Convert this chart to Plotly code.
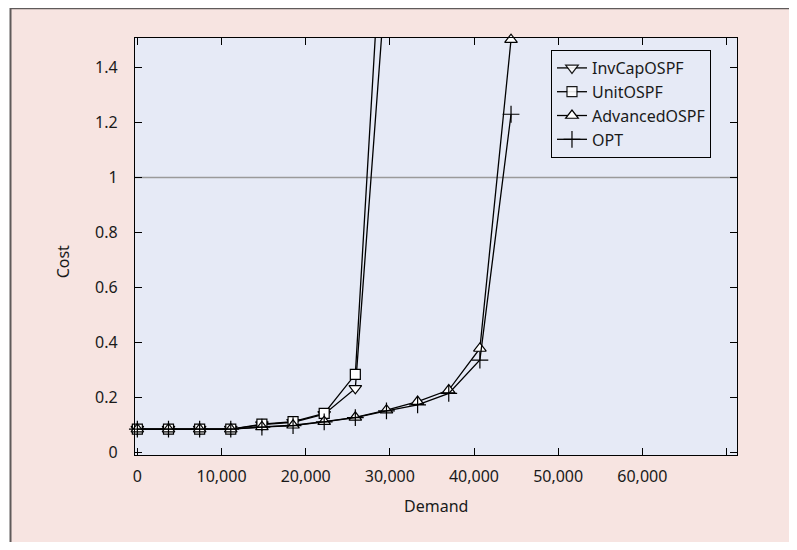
import plotly.graph_objects as go

# ---- data ----
demand_short = [0, 3700, 7400, 11100, 14800, 18500, 22200, 25900, 29600]
demand_long = [0, 3700, 7400, 11100, 14800, 18500, 22200, 25900, 29600,
               33300, 37000, 40700, 44400]

invcap_ospf = [0.086, 0.086, 0.086, 0.086, 0.102, 0.111, 0.140, 0.234, 1.75]
unit_ospf = [0.086, 0.086, 0.086, 0.086, 0.104, 0.113, 0.143, 0.285, 2.20]
advanced_ospf = [0.086, 0.086, 0.086, 0.086, 0.094, 0.100, 0.113, 0.129,
                 0.155, 0.186, 0.228, 0.379, 1.501]
opt = [0.086, 0.086, 0.086, 0.086, 0.093, 0.099, 0.112, 0.128,
       0.152, 0.174, 0.216, 0.337, 1.23]

x_tick_vals = [0, 10000, 20000, 30000, 40000, 50000, 60000, 70000]
x_tick_text = ["0", "10,000", "20,000", "30,000", "40,000", "50,000", "60,000", ""]
y_tick_vals = [0, 0.2, 0.4, 0.6, 0.8, 1.0, 1.2, 1.4]
y_tick_text = ["0", "0.2", "0.4", "0.6", "0.8", "1", "1.2", "1.4"]

X_RANGE = [-280, 71250]
Y_RANGE = [-0.008, 1.507]

FONT = "Noto Sans"
TXT = "#1a1a1a"
PINK = "#f7e4e1"
PLOT_BG = "#e6eaf6"

series = [
    ("InvCapOSPF", demand_short, invcap_ospf, "triangle-down", 11),
    ("UnitOSPF", demand_short, unit_ospf, "square", 10),
    ("AdvancedOSPF", demand_long, advanced_ospf, "triangle-up", 11),
    ("OPT", demand_long, opt, "cross-thin", 12),
]

fig = go.Figure()
for name, xs, ys, sym, size in series:
    opac = [1 if Y_RANGE[0] <= v <= Y_RANGE[1] + 0.01 else 0 for v in ys]
    fig.add_trace(go.Scatter(
        x=xs, y=ys, name=name, mode="lines+markers",
        line=dict(color="black", width=1.3),
        marker=dict(symbol=sym, size=size, color="white", opacity=opac,
                    line=dict(color="black", width=1.2)),
        cliponaxis=False,
    ))

# framed pink background panel, then the plot-area fill on top of it
fig.add_shape(type="rect", xref="paper", yref="paper",
              x0=-0.2068, x1=1.0985, y0=-0.3, y1=1.0712,
              fillcolor=PINK, line=dict(color="#5f5a5a", width=2), layer="below")
fig.add_shape(type="rect", xref="paper", yref="paper",
              x0=0, x1=1, y0=0, y1=1,
              fillcolor=PLOT_BG, line=dict(width=0), layer="below")

# reference line at cost = 1
fig.add_shape(type="line", xref="x", yref="y", x0=X_RANGE[0], x1=X_RANGE[1],
              y0=1, y1=1, line=dict(color="#9a9a9a", width=1.5), layer="below")

axis_common = dict(
    showline=True, linecolor="black", linewidth=1.3, mirror="ticks",
    ticks="inside", ticklen=7, tickcolor="black", tickwidth=1.2,
    showgrid=False, zeroline=False,
    tickfont=dict(family=FONT, size=16, color=TXT),
)

fig.update_xaxes(range=X_RANGE, tickvals=x_tick_vals, ticktext=x_tick_text,
                 ticklabelstandoff=7, **axis_common)
fig.update_yaxes(range=Y_RANGE, tickvals=y_tick_vals, ticktext=y_tick_text,
                 ticklabelstandoff=13, **axis_common)

fig.add_annotation(text="Demand", xref="paper", yref="paper", x=0.5, y=-0.1223,
                   showarrow=False, xanchor="center", yanchor="middle",
                   font=dict(family=FONT, size=16, color=TXT))
fig.add_annotation(text="Cost", xref="paper", yref="paper", x=-0.119, y=0.4628,
                   showarrow=False, xanchor="center", yanchor="middle", textangle=-90,
                   font=dict(family=FONT, size=16, color=TXT))

fig.update_layout(
    width=789, height=534,
    margin=dict(l=127, r=60, t=30, b=87),
    paper_bgcolor="white", plot_bgcolor=PLOT_BG,
    font=dict(family=FONT, size=16, color=TXT),
    legend=dict(x=0.691, y=0.9712, xanchor="left", yanchor="top",
                bgcolor=PLOT_BG, bordercolor="black", borderwidth=1,
                font=dict(family=FONT, size=16, color=TXT),
                itemwidth=30, tracegroupgap=0),
    showlegend=True,
)

fig.write_html("out.html")
